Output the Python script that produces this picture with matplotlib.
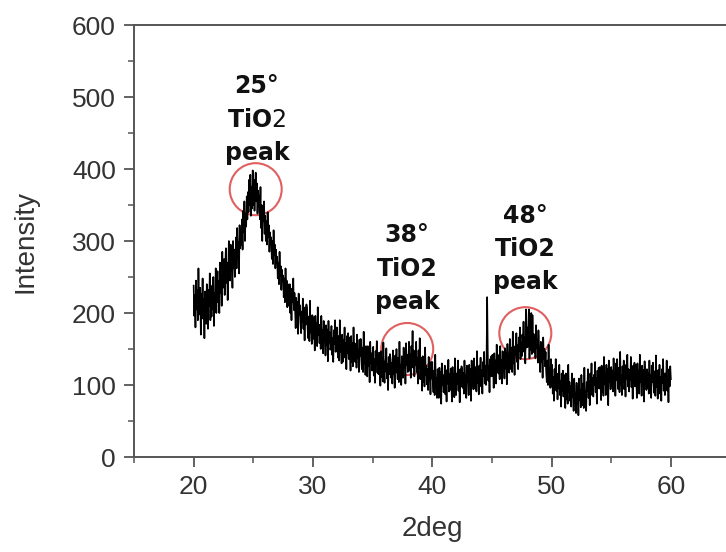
import matplotlib
matplotlib.use('Agg')
import numpy as np
import matplotlib.pyplot as plt
from matplotlib.patches import Ellipse
from matplotlib.ticker import MultipleLocator

# XRD scan, 20 to 60 deg in 0.05 deg steps
two_theta_start = 20.0
two_theta_step = 0.05
intensity = [
    238, 196, 225, 180, 245, 205, 232, 190, 262, 210,   # 20.0
    198, 235, 170, 226, 205, 248, 192, 220, 165, 230,   # 20.5
    222, 185, 240, 200, 178, 232, 210, 255, 190, 215,   # 21.0
    195, 238, 205, 250, 182, 228, 210, 262, 200, 240,   # 21.5
    258, 215, 245, 200, 270, 228, 252, 210, 285, 235,   # 22.0
    240, 275, 225, 265, 290, 242, 270, 218, 262, 300,   # 22.5
    280, 245, 295, 258, 272, 235, 300, 262, 288, 250,   # 23.0
    270, 305, 262, 318, 285, 298, 255, 322, 290, 310,   # 23.5
    295, 330, 288, 342, 312, 355, 300, 338, 320, 362,   # 24.0
    330, 368, 340, 385, 350, 392, 335, 375, 345, 398,   # 24.5
    350, 385, 342, 372, 395, 355, 380, 338, 370, 352,   # 25.0
    362, 330, 375, 318, 350, 300, 345, 328, 355, 310,   # 25.5
    335, 300, 328, 295, 340, 305, 322, 285, 312, 298,   # 26.0
    305, 275, 300, 268, 315, 280, 295, 262, 288, 270,   # 26.5
    278, 248, 270, 240, 285, 252, 265, 232, 260, 245,   # 27.0
    252, 222, 248, 215, 262, 230, 245, 208, 240, 225,   # 27.5
    210, 240, 200, 223, 190, 234, 215, 248, 204, 228,   # 28.0
    207, 179, 221, 193, 215, 171, 227, 197, 211, 187,   # 28.5
    172, 202, 188, 220, 178, 198, 162, 208, 184, 212,   # 29.0
    207, 179, 165, 195, 161, 217, 173, 185, 157, 197,   # 29.5
    164, 194, 178, 148, 196, 160, 186, 154, 208, 170,   # 30.0
    184, 158, 179, 150, 196, 164, 176, 144, 189, 166,   # 30.5
    169, 141, 183, 155, 177, 133, 189, 159, 173, 149,   # 31.0
    152, 182, 142, 165, 132, 176, 157, 190, 146, 170,   # 31.5
    180, 152, 138, 168, 134, 190, 146, 158, 130, 170,   # 32.0
    132, 162, 148, 180, 138, 158, 122, 168, 144, 172,   # 32.5
    136, 166, 150, 120, 168, 132, 158, 126, 180, 142,   # 33.0
    158, 132, 153, 124, 170, 138, 150, 118, 163, 140,   # 33.5
    164, 136, 122, 152, 118, 174, 130, 142, 114, 154,   # 34.0
    140, 112, 154, 126, 148, 104, 160, 130, 144, 120,   # 34.5
    123, 153, 113, 136, 103, 147, 128, 161, 117, 141,   # 35.0
    115, 145, 129, 99, 147, 111, 137, 105, 159, 121,    # 35.5
    103, 133, 119, 151, 109, 129, 93, 139, 115, 143,    # 36.0
    136, 110, 131, 102, 148, 116, 128, 96, 141, 118,    # 36.5
    150, 122, 108, 138, 104, 160, 116, 128, 100, 140,   # 37.0
    138, 110, 152, 124, 146, 102, 158, 128, 142, 118,   # 37.5
    130, 160, 120, 143, 110, 154, 135, 175, 124, 148,   # 38.0
    112, 142, 128, 160, 118, 138, 102, 148, 124, 165,   # 38.5
    108, 138, 122, 92, 140, 104, 130, 98, 152, 114,     # 39.0
    127, 101, 122, 93, 139, 107, 119, 87, 132, 109,     # 39.5
    132, 104, 90, 120, 86, 142, 98, 110, 82, 122,       # 40.0
    110, 82, 124, 96, 118, 74, 130, 100, 114, 90,       # 40.5
    97, 127, 87, 110, 77, 121, 102, 135, 91, 115,       # 41.0
    93, 123, 107, 77, 125, 89, 115, 83, 137, 99,        # 41.5
    86, 116, 102, 134, 92, 112, 76, 122, 98, 126,       # 42.0
    122, 96, 117, 88, 134, 102, 114, 82, 127, 104,      # 42.5
    114, 86, 128, 100, 122, 78, 134, 104, 118, 94,      # 43.0
    137, 109, 95, 125, 91, 147, 103, 115, 87, 127,      # 43.5
    108, 138, 98, 121, 88, 132, 113, 146, 102, 126,     # 44.0
    100, 130, 222, 148, 106, 126, 90, 136, 112, 140,    # 44.5
    112, 142, 126, 96, 144, 108, 134, 102, 156, 118,    # 45.0
    142, 116, 137, 108, 154, 122, 134, 102, 147, 124,   # 45.5
    137, 109, 151, 123, 145, 101, 157, 127, 141, 117,   # 46.0
    164, 136, 122, 152, 118, 174, 130, 142, 114, 154,   # 46.5
    142, 172, 132, 155, 122, 166, 147, 180, 136, 160,   # 47.0
    140, 170, 156, 188, 146, 166, 130, 205, 152, 180,   # 47.5
    153, 183, 205, 137, 185, 149, 200, 143, 197, 159,   # 48.0
    171, 145, 166, 137, 183, 151, 163, 131, 176, 153,   # 48.5
    146, 118, 160, 132, 154, 110, 166, 136, 150, 126,   # 49.0
    146, 118, 104, 134, 100, 156, 112, 124, 96, 136,    # 49.5
    98, 128, 88, 111, 78, 122, 103, 136, 92, 116,       # 50.0
    80, 110, 96, 128, 86, 106, 70, 116, 92, 120,        # 50.5
    84, 114, 98, 68, 116, 80, 106, 74, 128, 90,         # 51.0
    104, 78, 99, 70, 116, 84, 96, 64, 109, 86,          # 51.5
    89, 61, 103, 75, 97, 58, 109, 79, 93, 69,           # 52.0
    114, 86, 72, 102, 68, 124, 80, 92, 64, 104,         # 52.5
    92, 122, 82, 105, 72, 116, 97, 130, 86, 110,        # 53.0
    84, 114, 100, 132, 90, 110, 74, 120, 96, 124,       # 53.5
    95, 125, 109, 79, 127, 91, 117, 85, 139, 101,       # 54.0
    114, 86, 128, 100, 122, 72, 134, 104, 118, 94,      # 54.5
    125, 99, 120, 91, 137, 105, 117, 85, 130, 107,      # 55.0
    136, 108, 94, 124, 90, 146, 102, 114, 86, 126,      # 55.5
    104, 134, 94, 117, 84, 128, 109, 142, 98, 122,      # 56.0
    91, 121, 107, 139, 97, 117, 81, 127, 103, 131,      # 56.5
    98, 128, 112, 82, 130, 94, 120, 88, 142, 104,       # 57.0
    113, 85, 127, 99, 121, 77, 133, 103, 117, 93,       # 57.5
    122, 96, 117, 88, 134, 102, 114, 82, 127, 104,      # 58.0
    131, 103, 89, 119, 85, 141, 97, 109, 81, 121,       # 58.5
    98, 128, 88, 111, 78, 122, 103, 136, 92, 116,       # 59.0
    86, 116, 102, 134, 92, 112, 76, 122, 98, 126,       # 59.5
    108,                                                # 60.0
]
two_theta = two_theta_start + two_theta_step * np.arange(len(intensity))

# marked peaks: circle centre (deg, counts) and label lines
peak_pos = [25.2, 37.9, 47.8]
peak_y = [372, 150, 172]
peak_titles = ['25°', '38°', '48°']
peak_names = [r'$\mathbf{TiO}\mathrm{2}$', 'TiO2', 'TiO2']
label_x = [25.3, 37.9, 47.8]
label_base = [505, 298, 325]

plt.rcParams['mathtext.fontset'] = 'dejavusans'

fig = plt.figure(figsize=(7.26, 5.52), dpi=100)
ax = fig.add_axes([0.1846, 0.1721, 0.8216, 0.7826])

ax.plot(two_theta, intensity, color='black', lw=1.2)

ax.set_xlim(15, 65)
ax.set_ylim(0, 600)
ax.xaxis.set_major_locator(MultipleLocator(10))
ax.xaxis.set_minor_locator(MultipleLocator(5))
ax.yaxis.set_major_locator(MultipleLocator(100))
ax.yaxis.set_minor_locator(MultipleLocator(50))

spine_col = '#555555'
for s in ['left', 'bottom', 'top']:
    ax.spines[s].set_color(spine_col)
    ax.spines[s].set_linewidth(1.4)
ax.spines['right'].set_visible(False)

ax.tick_params(which='major', direction='out', length=7, width=1.3,
               color=spine_col, labelcolor='#333333', labelsize=19, pad=6)
ax.tick_params(which='minor', direction='out', length=4, width=1.1,
               color=spine_col)

ax.set_xticks([20, 30, 40, 50, 60])
ax.set_xticklabels(['20', '30', '40', '50', '60'], family='Liberation Sans')
ax.set_yticks([0, 100, 200, 300, 400, 500, 600])
ax.set_yticklabels(['0', '100', '200', '300', '400', '500', '600'],
                   family='Liberation Sans')

ax.set_xlabel('2deg', fontsize=20, family='Liberation Sans', color='#333333',
              labelpad=12)
ax.set_ylabel('Intensity', fontsize=20, family='Liberation Sans',
              color='#333333', labelpad=24)

# red rings and labels
for i in range(3):
    ring = Ellipse((peak_pos[i], peak_y[i]), width=2 * 26 / 11.93,
                   height=2 * 26 / 0.72, fill=False, ec='#e06060', lw=1.5)
    ax.add_patch(ring)
    ax.text(label_x[i], label_base[i], peak_titles[i], ha='center',
            va='baseline', fontsize=17, fontweight='bold', color='#111111')
    ax.text(label_x[i], label_base[i] - 46, peak_names[i], ha='center',
            va='baseline', fontsize=17, fontweight='bold', color='#111111')
    ax.text(label_x[i], label_base[i] - 92, 'peak', ha='center',
            va='baseline', fontsize=17, fontweight='bold', color='#111111')

fig.savefig('out.png', dpi=100)
